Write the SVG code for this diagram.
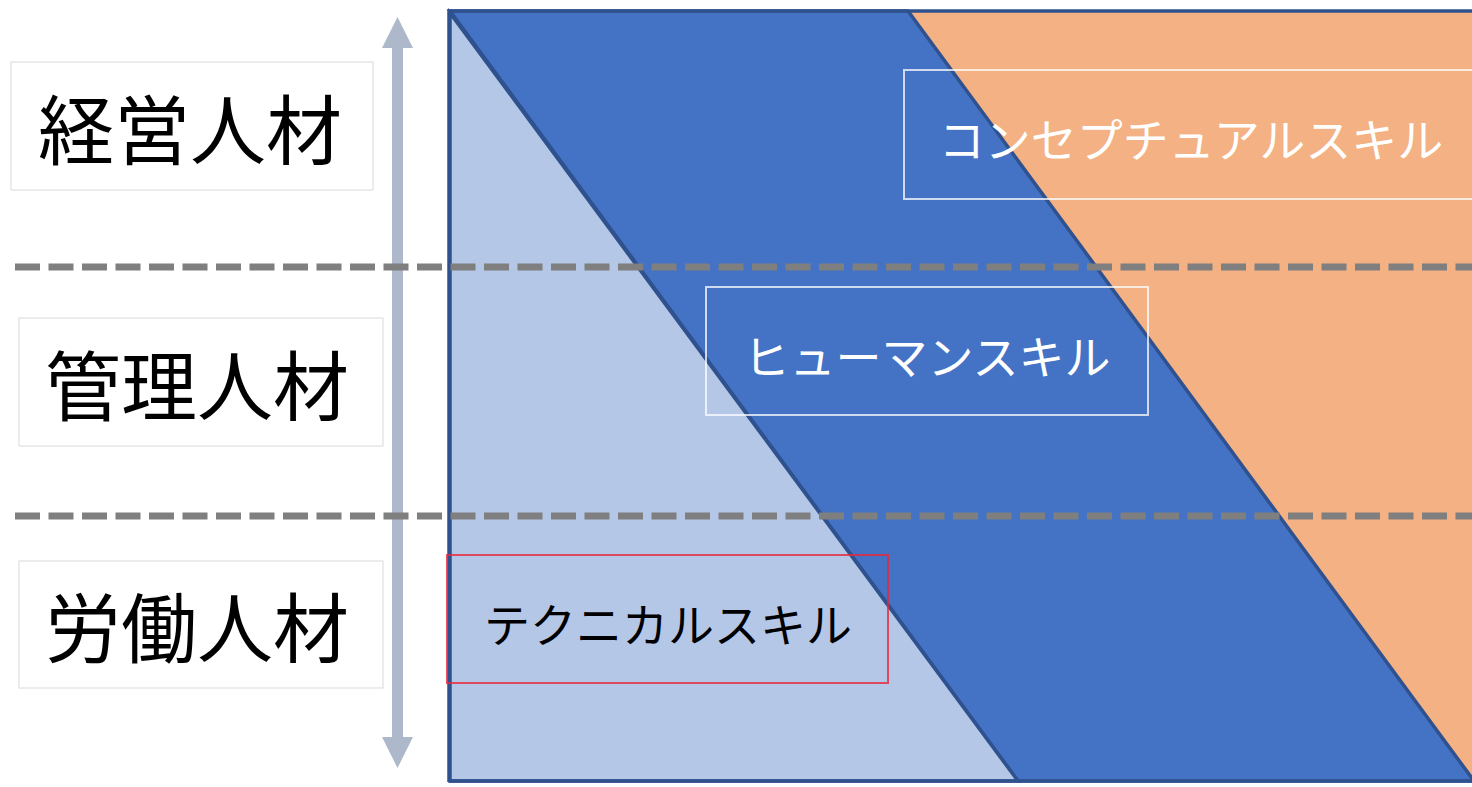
<svg xmlns="http://www.w3.org/2000/svg" width="1472" height="787" viewBox="0 0 1472 787">
<style>
.lbl{fill:#FFFFFF;stroke:#D9D9D9;stroke-width:1}
.kanji{font-family:"Noto Sans CJK JP","Noto Sans CJK SC",sans-serif;font-size:76px;fill:#000000;text-anchor:middle;dominant-baseline:central}
.kana{font-family:"Noto Sans CJK JP","Noto Sans CJK SC",sans-serif;font-size:46px;text-anchor:middle;dominant-baseline:central;font-weight:400}
.edge{stroke:#2F528F;stroke-width:3.5;stroke-linejoin:miter}
.dash{stroke:#7F7F7F;stroke-width:7;stroke-dasharray:25 8.5;fill:none}
.skillbox{fill:none;stroke:#FFFFFF;stroke-opacity:0.75;stroke-width:2}
</style>
<rect width="1472" height="787" fill="#FFFFFF"/>
<g id="vertical-arrow">
<polygon points="397.5,17 413,48 403,48 403,737 413,737 397.5,768 382,737 392,737 392,48 382,48" fill="#ADB9CA"/>
</g>
<g id="skill-area">
<polygon points="908,11 1474,11 1474,781" fill="#F4B183"/>
<polygon class="edge" points="450,11 908,11 1474,781 1018,781" fill="#4472C4"/>
<polygon class="edge" points="450,13 1018,781 450,781" fill="#B4C7E7"/>
<line class="edge" x1="449" y1="11" x2="1472" y2="11"/>
<line class="edge" x1="449" y1="10" x2="449" y2="782"/>
<line class="edge" x1="449" y1="781" x2="1472" y2="781"/>
</g>
<g id="dividers">
<line class="dash" x1="15" y1="267" x2="1472" y2="267"/>
<line class="dash" x1="15" y1="516" x2="1472" y2="516"/>
</g>
<g id="label-keiei">
<rect class="lbl" x="11" y="62" width="362" height="128"/>
<text class="kanji" x="190" y="126">経営人材</text>
</g>
<g id="label-kanri">
<rect class="lbl" x="19" y="318" width="364" height="128"/>
<text class="kanji" x="197" y="382">管理人材</text>
</g>
<g id="label-roudou">
<rect class="lbl" x="19" y="561" width="364" height="127"/>
<text class="kanji" x="197" y="624">労働人材</text>
</g>
<g id="skill-conceptual">
<rect class="skillbox" x="904" y="70" width="600" height="129"/>
<text class="kana" x="1191" y="137" fill="#FFFFFF">コンセプチュアルスキル</text>
</g>
<g id="skill-human">
<rect class="skillbox" x="706" y="287" width="442" height="128"/>
<text class="kana" x="927" y="354" fill="#FFFFFF">ヒューマンスキル</text>
</g>
<g id="skill-technical">
<rect x="447" y="555" width="441" height="128" fill="none" stroke="#E8283A" stroke-opacity="0.8" stroke-width="2"/>
<text class="kana" x="668" y="622" fill="#000000">テクニカルスキル</text>
</g>
</svg>
